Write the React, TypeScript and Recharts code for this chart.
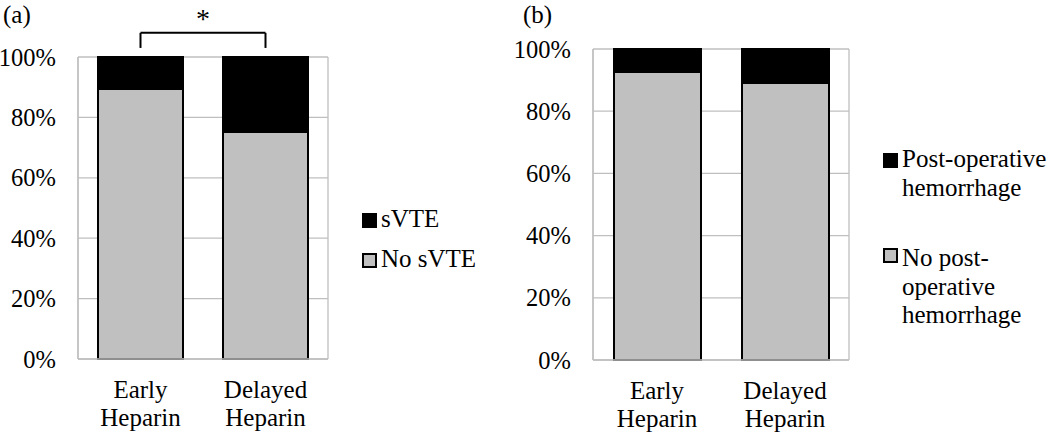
import React from "react";
import {
  Bar,
  BarChart,
  CartesianGrid,
  ReferenceLine,
  XAxis,
  YAxis,
} from "recharts";

const categories = ["Early Heparin", "Delayed Heparin"];
const noSvte = [89.4, 75.2];
const svte = [10.6, 24.8];
const noHemorrhage = [92.6, 89.1];
const hemorrhage = [7.4, 10.9];
const yTicks = [0, 20, 40, 60, 80, 100];

const FONT = "Liberation Serif";
const GRID = "#bfbfbf";
const GRAY = "#c0c0c0";

const leftData = categories.map((name, i) => ({ name, no: noSvte[i], yes: svte[i] }));
const rightData = categories.map((name, i) => ({
  name,
  no: noHemorrhage[i],
  yes: hemorrhage[i],
}));

function CategoryTick(props: any) {
  const { x, y, payload } = props;
  const lines = String(payload.value).split(" ");
  return (
    <text x={x} y={y} textAnchor="middle" style={{ fontFamily: FONT, fontSize: 25 }} fill="#000">
      {lines.map((l, i) => (
        <tspan key={i} x={x} dy={i === 0 ? 31 : 28}>
          {l}
        </tspan>
      ))}
    </text>
  );
}

function Panel({
  data,
  width,
  margin,
  barSize,
  children,
}: {
  data: { name: string; no: number; yes: number }[];
  width: number;
  margin: { top: number; right: number; bottom: number; left: number };
  barSize: number;
  children?: React.ReactNode;
}) {
  return (
    <BarChart width={width} height={433} data={data} margin={margin} style={{ fontFamily: FONT }}>
      <CartesianGrid
        stroke={GRID}
        strokeWidth={1.3}
        verticalCoordinatesGenerator={({ offset }: any) => [
          offset.left,
          offset.left + offset.width,
        ]}
      />
      <XAxis
        dataKey="name"
        tick={<CategoryTick />}
        tickLine={false}
        axisLine={{ stroke: GRID, strokeWidth: 1.3 }}
        height={70}
        interval={0}
      />
      <YAxis
        domain={[0, 100]}
        ticks={yTicks}
        tickFormatter={(v) => `${v}%`}
        tick={{ fontSize: 24.5, fill: "#000", style: { fontFamily: FONT } }}
        tickLine={false}
        tickSize={0}
        tickMargin={22}
        axisLine={{ stroke: GRID, strokeWidth: 1.3 }}
        width={70}
      />
      <Bar
        dataKey="no"
        stackId="a"
        fill={GRAY}
        stroke="#000"
        strokeWidth={2}
        barSize={barSize}
        isAnimationActive={false}
      />
      <Bar
        dataKey="yes"
        stackId="a"
        fill="#000"
        stroke="#000"
        strokeWidth={2}
        barSize={barSize}
        isAnimationActive={false}
      />
      {children}
    </BarChart>
  );
}

const legendText: React.CSSProperties = {
  position: "absolute",
  fontFamily: FONT,
  fontSize: 25,
  lineHeight: "28.5px",
  color: "#000",
  whiteSpace: "nowrap",
};

function Swatch({ left, top, color }: { left: number; top: number; color: string }) {
  return (
    <div
      style={{
        position: "absolute",
        left,
        top,
        width: 11,
        height: 11,
        background: color,
        border: "2px solid #000",
      }}
    />
  );
}

export default function App() {
  return (
    <div style={{ position: "absolute", left: 0, top: 0, width: 1050, height: 433, background: "#fff", fontFamily: FONT }}>
      <div style={{ ...legendText, left: 3, top: 1 }}>(a)</div>
      <div style={{ ...legendText, left: 523, top: 1 }}>(b)</div>

      <div style={{ position: "absolute", left: 0, top: 0 }}>
        <Panel
          data={leftData}
          width={340}
          barSize={85}
          margin={{ top: 57, right: 12, bottom: 4, left: 8 }}
        >
          <ReferenceLine
            segment={[
              { x: categories[0], y: 103 },
              { x: categories[0], y: 108 },
            ]}
            stroke="#000"
            strokeWidth={2}
            ifOverflow="visible"
          />
          <ReferenceLine
            segment={[
              { x: categories[1], y: 103 },
              { x: categories[1], y: 108 },
            ]}
            stroke="#000"
            strokeWidth={2}
            ifOverflow="visible"
          />
          <ReferenceLine
            segment={[
              { x: categories[0], y: 108 },
              { x: categories[1], y: 108 },
            ]}
            stroke="#000"
            strokeWidth={2}
            ifOverflow="visible"
            label={{
              value: "*",
              position: "top",
              offset: 5,
              fontSize: 28,
              fill: "#000",
              style: { fontFamily: FONT },
            }}
          />
        </Panel>
      </div>
      <Swatch left={362} top={213} color="#000" />
      <div style={{ ...legendText, left: 381, top: 205 }}>sVTE</div>
      <Swatch left={362} top={253} color={GRAY} />
      <div style={{ ...legendText, left: 381, top: 245 }}>No sVTE</div>

      <div style={{ position: "absolute", left: 510, top: 0 }}>
        <Panel
          data={rightData}
          width={350}
          barSize={87}
          margin={{ top: 49, right: 11, bottom: 3, left: 13 }}
        />
      </div>
      <Swatch left={883} top={153} color="#000" />
      <div style={{ ...legendText, left: 902, top: 145 }}>
        Post-operative
        <br />
        hemorrhage
      </div>
      <Swatch left={883} top={248} color={GRAY} />
      <div style={{ ...legendText, left: 902, top: 244 }}>
        No post-
        <br />
        operative
        <br />
        hemorrhage
      </div>
    </div>
  );
}
